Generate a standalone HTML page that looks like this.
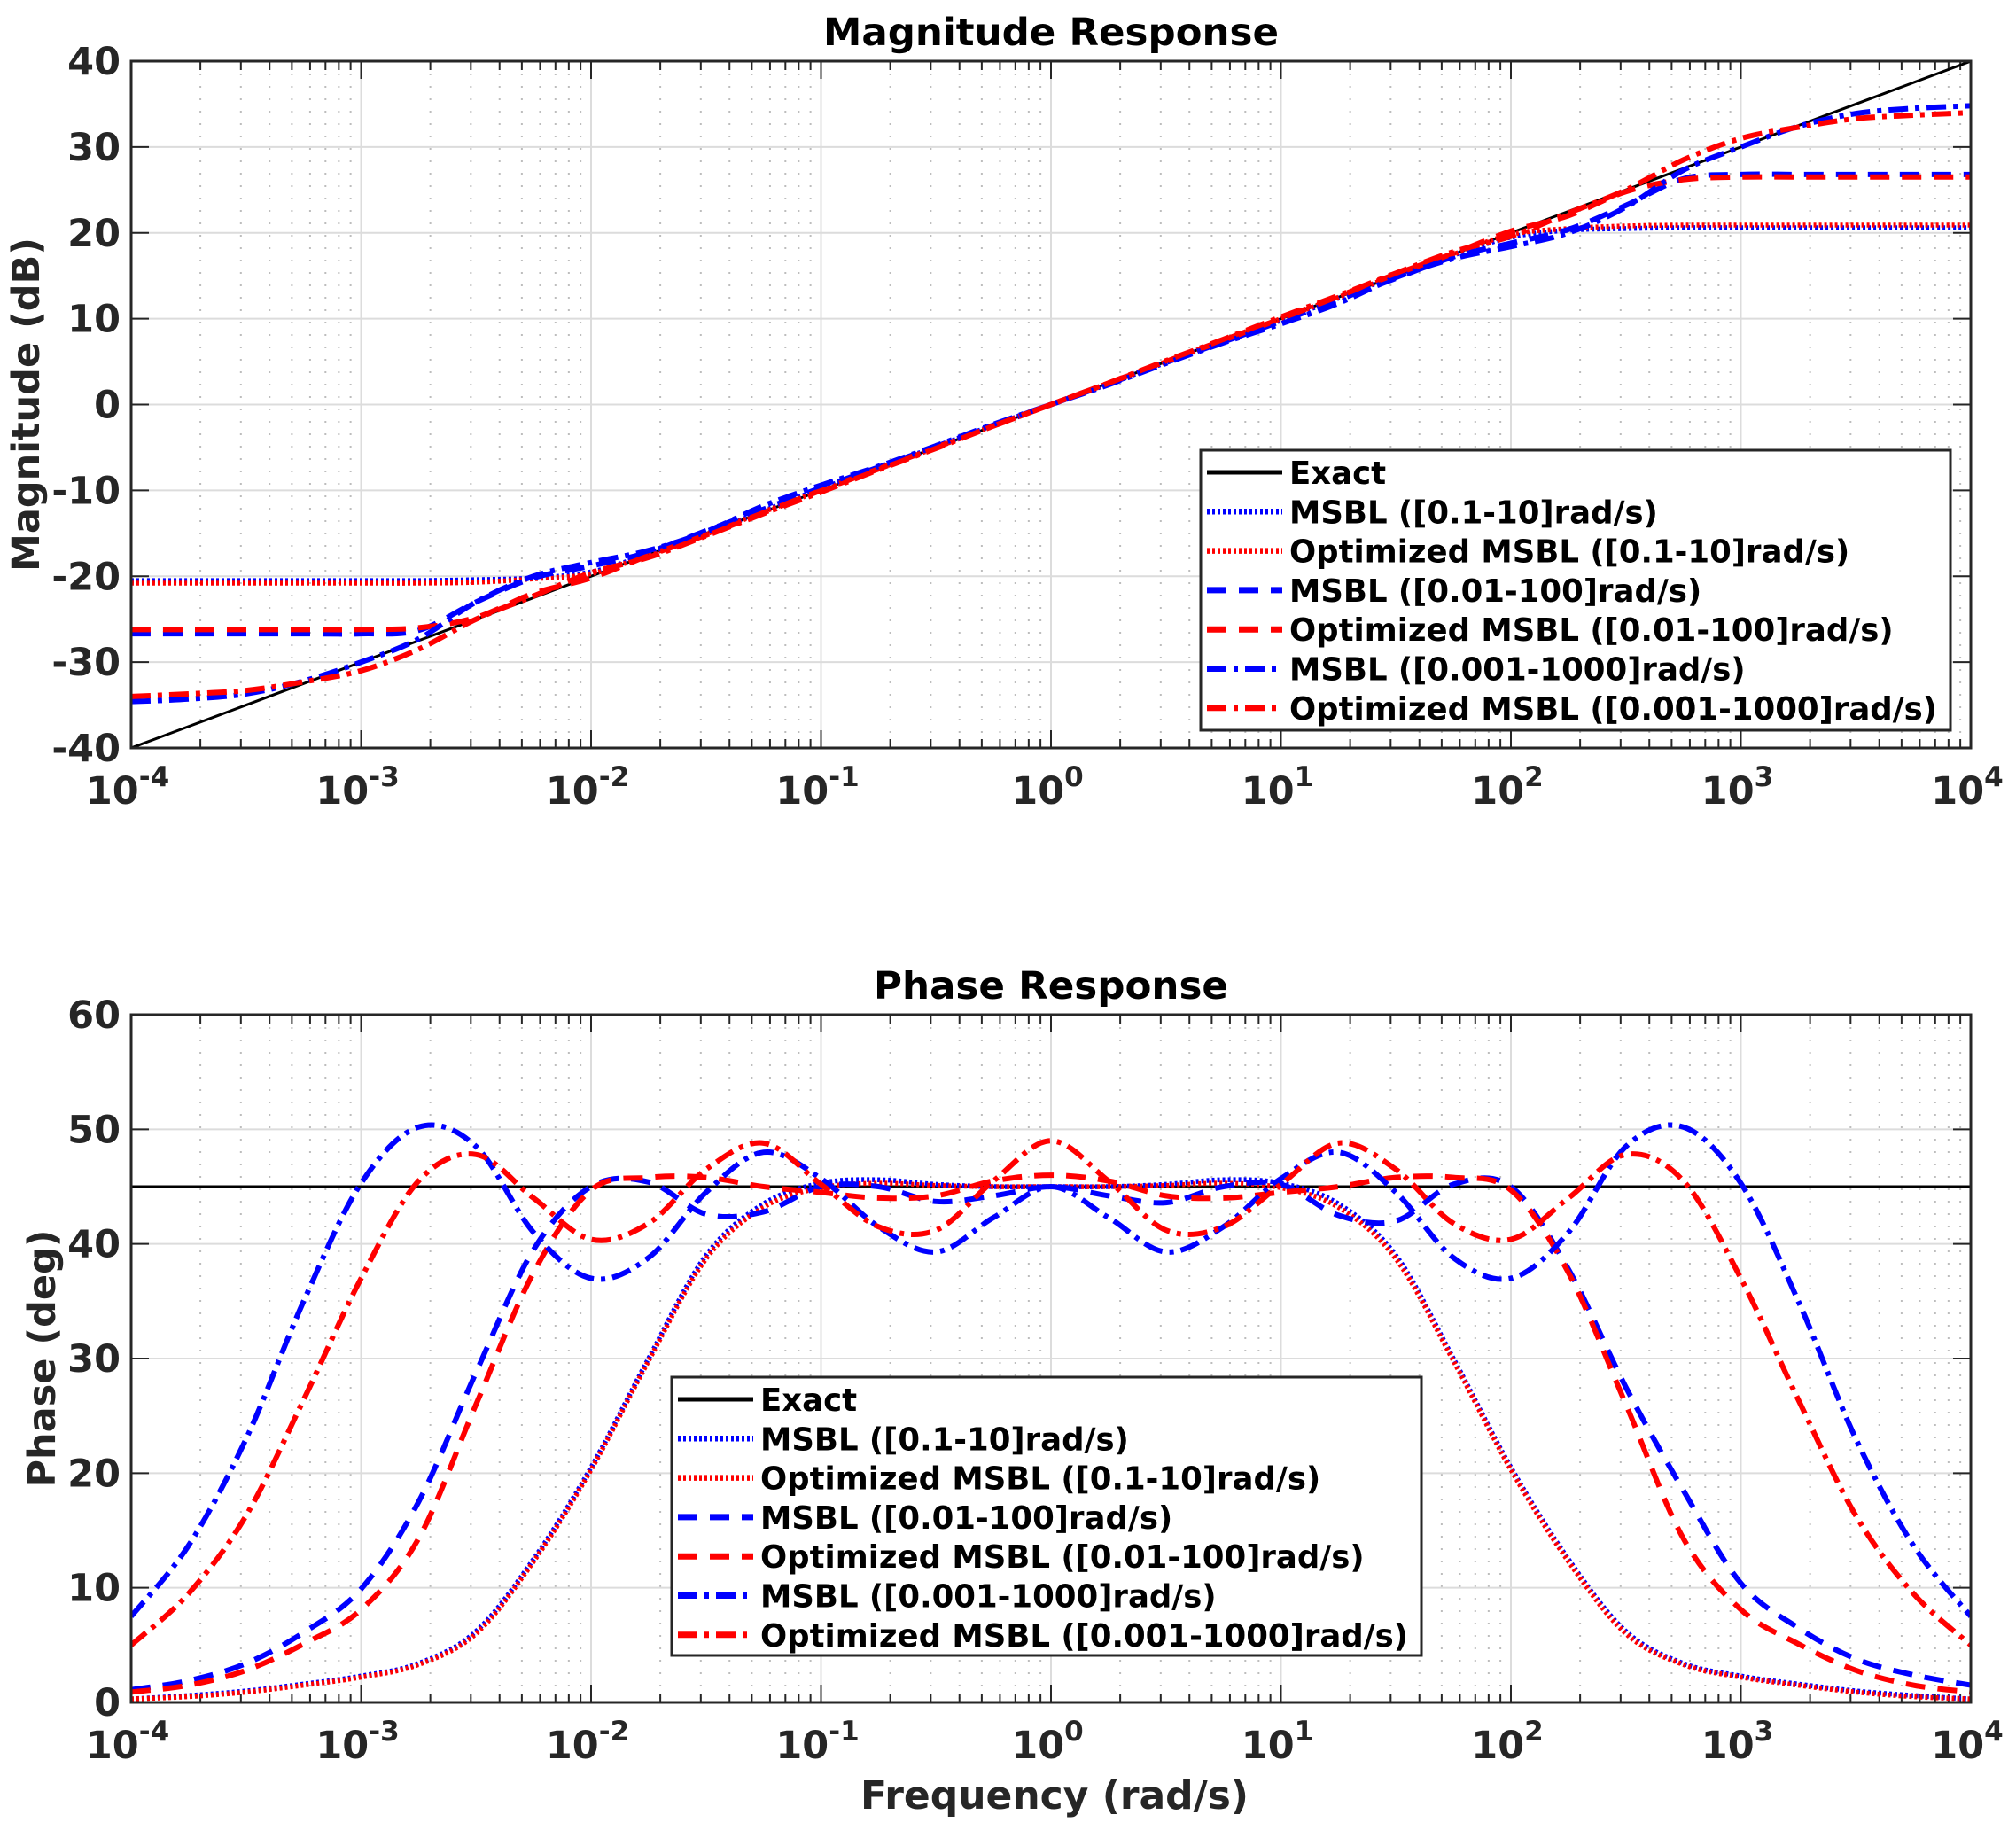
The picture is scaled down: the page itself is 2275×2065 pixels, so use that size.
<!DOCTYPE html>
<html><head><meta charset="utf-8"><style>
html,body{margin:0;padding:0;background:#fff}
svg{display:block}
text{font-family:"DejaVu Sans","Liberation Sans",sans-serif;font-weight:bold;fill:#262626}
</style></head><body>
<svg id="fig" width="2275" height="2065" viewBox="0 0 2275 2065" xmlns="http://www.w3.org/2000/svg"></svg>
<script>
// ---- data (log10 frequency grid -4..4 step 0.25) ----
const logFreq = [-4,-3.75,-3.5,-3.25,-3,-2.75,-2.5,-2.25,-2,-1.75,-1.5,-1.25,-1,-0.75,-0.5,-0.25,0,0.25,0.5,0.75,1,1.25,1.5,1.75,2,2.25,2.5,2.75,3,3.25,3.5,3.75,4];
const magExact = [-40,-37.5,-35,-32.5,-30,-27.5,-25,-22.5,-20,-17.5,-15,-12.5,-10,-7.5,-5,-2.5,0,2.5,5,7.5,10,12.5,15,17.5,20,22.5,25,27.5,30,32.5,35,37.5,40];
const magMsbl1 = [-20.5,-20.5,-20.5,-20.5,-20.5,-20.5,-20.4,-20.2,-19.5,-17.4,-15.0,-12.4,-9.8,-7.4,-4.9,-2.4,0,2.4,4.9,7.4,9.8,12.4,15.0,17.4,19.5,20.3,20.5,20.6,20.6,20.6,20.6,20.6,20.6];
const magOpt1 = [-20.8,-20.8,-20.8,-20.8,-20.8,-20.8,-20.7,-20.3,-19.7,-17.5,-15.1,-12.5,-10,-7.5,-5,-2.5,0,2.5,5,7.5,10,12.5,15.1,17.5,19.8,20.5,20.8,20.9,20.9,20.9,20.9,20.9,20.9];
const magMsbl2 = [-26.7,-26.7,-26.7,-26.7,-26.7,-26.3,-23,-20.2,-18.8,-17.2,-14.7,-12.2,-9.7,-7.3,-4.9,-2.4,0,2.4,4.9,7.3,9.7,12.2,14.7,17.2,18.8,20.4,23.2,26.3,26.8,26.8,26.8,26.8,26.8];
const magOpt2 = [-26.2,-26.2,-26.2,-26.2,-26.2,-26.0,-24.8,-22.0,-20.2,-17.6,-15.2,-12.6,-10,-7.5,-5,-2.5,0,2.5,5,7.5,10,12.6,15.2,17.6,20.2,22.0,24.8,26.2,26.5,26.5,26.5,26.5,26.5];
const magMsbl3 = [-34.6,-34.3,-33.7,-32.2,-30,-27.3,-23,-20,-18.4,-17,-14.8,-11.8,-9.4,-7.2,-4.8,-2.3,0,2.3,4.8,7.2,9.4,11.8,14.8,17,18.4,20,23,27.3,30,32.4,33.9,34.5,34.8];
const magOpt3 = [-34,-33.7,-33.3,-32.3,-31,-28.5,-25,-22.3,-19.6,-17.8,-15.3,-12.7,-10.2,-7.6,-5.1,-2.5,0,2.5,5.1,7.6,10.2,12.7,15.3,17.8,19.6,22.3,25,28.5,31,32.3,33.3,33.7,34];
const phExact = [45,45,45,45,45,45,45,45,45,45,45,45,45,45,45,45,45,45,45,45,45,45,45,45,45,45,45,45,45,45,45,45,45];
const phMsbl1 = [0.3,0.6,1.0,1.6,2.3,3.4,6.2,12.5,20.5,30,39,43.5,45.3,45.6,45.2,45,45,45,45.2,45.6,45.3,43.5,39,30,20.5,12.5,6.2,3.4,2.3,1.6,1.0,0.6,0.3];
const phOpt1 = [0.3,0.5,0.9,1.5,2.2,3.3,6.0,12.3,20.3,29.8,38.7,43.2,44.9,45.3,45.1,45,45,45,45.1,45.3,44.9,43.2,38.7,29.8,20.3,12.3,6.0,3.3,2.2,1.5,0.9,0.5,0.3];
const phMsbl2 = [1.1,1.9,3.4,6.1,9.9,17.5,28.8,39.5,45,45.4,42.6,42.8,45,45,43.7,44.2,45,44.2,43.6,45,45.2,42.5,42,45.2,45,37.8,27.5,18.5,10.4,6.5,3.8,2.4,1.5];
const phOpt2 = [0.9,1.5,2.8,5.1,8.1,14.3,26,37.5,44.7,45.8,45.8,45,44.5,44,44.2,45.5,46,45.5,44.2,44,44.5,45,45.8,45.8,44.7,37.5,26,14.3,8.1,5.1,2.8,1.5,0.9];
const phMsbl3 = [7.5,13.7,23,35,45.3,50.2,48.5,41,37,38.8,44.5,48,45.7,41.5,39.3,42.3,45,42.3,39.3,41.5,45.7,48,44.5,38.8,37,41,48.5,50.2,45.3,35,23,13.7,7.5];
const phOpt3 = [5,9.5,16.3,26.4,37,45.5,47.8,44,40.4,41.8,46.5,48.8,45.2,41.5,41.2,45.5,49,45.5,41.2,41.5,45.2,48.8,46.5,41.8,40.4,44,47.8,45.5,37,26.4,16.3,9.5,5];
const magTicks = [-40,-30,-20,-10,0,10,20,30,40];
const phTicks = [0,10,20,30,40,50,60];
const decades = [-4,-3,-2,-1,0,1,2,3,4];
const legendLabels = ["Exact","MSBL ([0.1-10]rad/s)","Optimized MSBL ([0.1-10]rad/s)","MSBL ([0.01-100]rad/s)","Optimized MSBL ([0.01-100]rad/s)","MSBL ([0.001-1000]rad/s)","Optimized MSBL ([0.001-1000]rad/s)"];

const NS="http://www.w3.org/2000/svg";
const svg=document.getElementById('fig');
function mk(tag,attrs,parent){const e=document.createElementNS(NS,tag);for(const k in attrs)e.setAttribute(k,attrs[k]);(parent||svg).appendChild(e);return e;}

const X0=148,X1=2224;
function xScale(lg){return X0+(lg+4)/8*(X1-X0);}
const styles=[
 {c:"#000",w:4,d:""},
 {c:"#0000ff",w:5.5,d:"3,3"},
 {c:"#ff0000",w:5.5,d:"3,3"},
 {c:"#0000ff",w:6,d:"22,14"},
 {c:"#ff0000",w:6,d:"22,14"},
 {c:"#0000ff",w:6,d:"22,8,5,8"},
 {c:"#ff0000",w:6,d:"22,8,5,8"}
];
const seriesNames=["exact","msbl-0.1-10","optimized-msbl-0.1-10","msbl-0.01-100","optimized-msbl-0.01-100","msbl-0.001-1000","optimized-msbl-0.001-1000"];

function pathFrom(xs,ys){
  let d=`M${xs[0]},${ys[0]}`;
  for(let i=0;i<xs.length-1;i++){
    const x0=xs[Math.max(i-1,0)],y0=ys[Math.max(i-1,0)],x1=xs[i],y1=ys[i],x2=xs[i+1],y2=ys[i+1],x3=xs[Math.min(i+2,xs.length-1)],y3=ys[Math.min(i+2,xs.length-1)];
    d+=` C${x1+(x2-x0)/6},${y1+(y2-y0)/6} ${x2-(x3-x1)/6},${y2-(y3-y1)/6} ${x2},${y2}`;
  }
  return d;
}

function drawAxes(prefix,Y0,Y1,vmin,vmax,ticks,series,title,titleLen,ylabel,ylabelX,legendBox){
  const yScale=v=>Y1-(v-vmin)/(vmax-vmin)*(Y1-Y0);
  const g=mk('g',{});
  
  
  const grid=mk('g',{},g);
  
  
  for(let dcd=-4;dcd<4;dcd++){
    for(let m=2;m<=9;m++){
      const x=xScale(dcd+Math.log10(m));
      mk('line',{x1:x,y1:Y0,x2:x,y2:Y1,stroke:"#bdbdbd","stroke-width":2,"stroke-dasharray":"2,12"},grid);
      mk('line',{x1:x,y1:Y1,x2:x,y2:Y1-10,stroke:"#262626","stroke-width":2},grid);
      mk('line',{x1:x,y1:Y0,x2:x,y2:Y0+10,stroke:"#262626","stroke-width":2},grid);
    }
  }
  decades.forEach(dc=>{const x=xScale(dc);
    mk('line',{x1:x,y1:Y0,x2:x,y2:Y1,stroke:"#dcdcdc","stroke-width":2},grid);
    mk('line',{x1:x,y1:Y1,x2:x,y2:Y1-20,stroke:"#262626","stroke-width":2},grid);
    mk('line',{x1:x,y1:Y0,x2:x,y2:Y0+20,stroke:"#262626","stroke-width":2},grid);
  });
  ticks.forEach(t=>{const y=yScale(t);
    mk('line',{x1:X0,y1:y,x2:X1,y2:y,stroke:"#dcdcdc","stroke-width":2},grid);
    mk('line',{x1:X0,y1:y,x2:X0+20,y2:y,stroke:"#262626","stroke-width":2},grid);
    mk('line',{x1:X1,y1:y,x2:X1-20,y2:y,stroke:"#262626","stroke-width":2},grid);
    const tl=mk('text',{x:136,y:y+15,"font-size":43,"text-anchor":"end"},g);
    tl.textContent=String(t);
    
    
  });
  decades.forEach(dc=>{const x=xScale(dc);
    const tl=mk('text',{x:x-4,y:Y1+63,"font-size":43,"text-anchor":"middle"},g);
    
    
    const b=mk('tspan',{},tl);b.textContent="10";
    const s=mk('tspan',{dy:-20,"font-size":31},tl);s.textContent=String(dc);
  });
  const xs=logFreq.map(xScale);
  const clip=mk('clipPath',{id:prefix+'-clip'},g);
  mk('rect',{x:X0,y:Y0,width:X1-X0,height:Y1-Y0},clip);
  const sg=mk('g',{"clip-path":`url(#${prefix}-clip)`},g);
  series.forEach((arr,i)=>{
    const st=styles[i];
    const p=mk('path',{d:pathFrom(xs,arr.map(yScale)),fill:"none",stroke:st.c,"stroke-width":i==0?3:st.w,"stroke-dasharray":st.d},sg);
    
    
  });
  const box=mk('rect',{x:X0,y:Y0,width:X1-X0,height:Y1-Y0,fill:"none",stroke:"#262626","stroke-width":3},g);
  
  
  const tt=mk('text',{x:(X0+X1)/2,y:Y0-18,"font-size":43,"text-anchor":"middle",textLength:titleLen,lengthAdjust:"spacingAndGlyphs",style:"fill:#000"},g);
  tt.textContent=title;
  
  
  const yl=mk('text',{x:0,y:0,"font-size":43,"text-anchor":"middle",transform:`translate(${ylabelX},${(Y0+Y1)/2}) rotate(-90)`},g);
  yl.textContent=ylabel;
  
  
  const L=mk('g',{},g);
  
  
  mk('rect',{x:legendBox.x,y:legendBox.y,width:legendBox.w,height:legendBox.h,fill:"#fff",stroke:"#262626","stroke-width":3},L);
  legendLabels.forEach((lab,i)=>{
    const cy=legendBox.y+25+i*44.3;
    const e=mk('g',{},L);
    
    
    const st=styles[i];
    mk('line',{x1:legendBox.x+7,y1:cy,x2:legendBox.x+92,y2:cy,stroke:st.c,"stroke-width":i==0?5:st.w+1,"stroke-dasharray":st.d},e);
    const t=mk('text',{x:legendBox.x+100,y:cy+13,"font-size":35.5,style:"fill:#000"},e);
    t.textContent=lab;
  });
}

drawAxes('magnitude',69,844,-40,40,magTicks,[magExact,magMsbl1,magOpt1,magMsbl2,magOpt2,magMsbl3,magOpt3],'Magnitude Response',514,'Magnitude (dB)',44,{x:1355,y:508,w:846,h:316});
drawAxes('phase',1145,1921,0,60,phTicks,[phExact,phMsbl1,phOpt1,phMsbl2,phOpt2,phMsbl3,phOpt3],'Phase Response',400,'Phase (deg)',62,{x:758,y:1554,w:846,h:314});

const xl=mk('text',{x:1190,y:2041,"font-size":44,"text-anchor":"middle",textLength:438,lengthAdjust:"spacingAndGlyphs"});
xl.textContent='Frequency (rad/s)';


</script>
</body></html>
